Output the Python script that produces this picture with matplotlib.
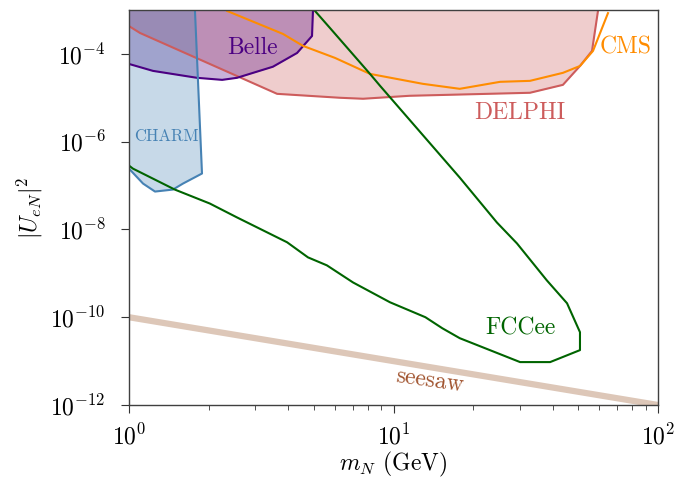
import numpy as np
import matplotlib
matplotlib.use("Agg")
import matplotlib.pyplot as plt

plt.rcParams['mathtext.fontset'] = 'cm'
plt.rcParams['font.family'] = 'serif'
plt.rcParams['font.serif'] = ['cmr10', 'DejaVu Serif']
plt.rcParams['axes.formatter.use_mathtext'] = True
plt.rcParams['axes.unicode_minus'] = False

YTOP = 1e-3

# DELPHI lower boundary (region above is excluded)
delphi_m = [1.0, 1.10, 3.63, 6.28, 7.67, 11.5, 32.8, 43.7, 50.7, 56.3, 59.3]
delphi_u = [4.3e-4, 3.0e-4, 1.23e-5, 1.0e-5, 9.5e-6, 1.11e-5, 1.30e-5, 1.97e-5, 5.3e-5, 1.17e-4, 9.5e-4]

# Belle lower boundary
belle_m = [1.0, 1.232, 1.807, 2.25, 2.56, 3.50, 4.32, 4.92, 4.96]
belle_u = [5.9e-5, 4.1e-5, 2.85e-5, 2.56e-5, 2.85e-5, 5.1e-5, 1.05e-4, 2.56e-4, 9.5e-4]

# CHARM boundary
charm_m = [1.0, 1.13, 1.254, 1.466, 1.60, 1.888, 1.776]
charm_u = [2.43e-7, 1.11e-7, 7.3e-8, 8.1e-8, 1.11e-7, 1.88e-7, 9.5e-4]

# CMS
cms_m = [2.35, 3.82, 4.55, 6.01, 8.15, 12.9, 17.8, 25.3, 32.8, 43.7, 50.7, 56.8, 64.7]
cms_u = [9.5e-4, 2.85e-4, 1.52e-4, 8.1e-5, 3.5e-5, 2.08e-5, 1.60e-5, 2.31e-5, 2.43e-5, 3.7e-5, 5.3e-5, 1.17e-4, 8.5e-4]

# FCCee closed contour
fcc_m = [5.05, 5.75, 8.15, 8.89, 17.8, 24.6, 29.3, 38.0, 45.3, 50.7, 50.7, 39.1, 30.1,
         17.8, 15.3, 13.2, 9.70, 7.03, 5.60, 4.75, 3.96, 2.56, 2.02, 1.49, 1.035, 1.0]
fcc_u = [9.5e-4, 3.9e-4, 3.5e-5, 1.88e-5, 1.52e-7, 1.44e-8, 4.8e-9, 6.9e-10, 2.08e-10,
         4.56e-11, 1.78e-11, 9.5e-12, 9.5e-12, 3.33e-11, 5.6e-11, 1.0e-10, 2.19e-10,
         6.2e-10, 1.52e-9, 2.31e-9, 5.1e-9, 1.88e-8, 3.9e-8, 8.1e-8, 2.43e-7, 2.85e-7]

# seesaw line
seesaw_m = [1.0, 100.0]
seesaw_u = [1e-10, 1e-12]

fig = plt.figure(figsize=(6.75, 4.79), dpi=100)
ax = fig.add_axes([129/675, 1-405/479, (658-129)/675, (405-10)/479])
ax.set_xscale('log')
ax.set_yscale('log')

c_del = 'indianred'
c_belle = 'indigo'
c_charm = 'steelblue'
c_cms = 'darkorange'
c_fcc = 'darkgreen'

ax.fill_between(delphi_m, delphi_u, YTOP * 2, color=c_del, alpha=0.3, lw=0)
ax.plot(delphi_m, delphi_u, color=c_del, lw=1.5)

ax.fill_between(belle_m, belle_u, YTOP * 2, color=c_belle, alpha=0.3, lw=0)
ax.plot(belle_m, belle_u, color=c_belle, lw=1.5)

cm_poly = list(charm_m) + [0.5, 0.5]
cu_poly = list(charm_u) + [YTOP * 2, charm_u[0]]
ax.fill(cm_poly, cu_poly, color=c_charm, alpha=0.3, lw=0)
ax.plot(charm_m, charm_u, color=c_charm, lw=1.5)

ax.plot(cms_m, cms_u, color=c_cms, lw=1.5)
ax.plot(fcc_m, fcc_u, color=c_fcc, lw=1.5)

ax.plot(seesaw_m, seesaw_u, color='#ddc7b8', lw=4.5, solid_capstyle='butt')

fs = 17
ax.text(2.94, 1.35e-4, 'Belle', color=c_belle, fontsize=fs, ha='center', va='center')
ax.text(30.1, 4.56e-6, 'DELPHI', color=c_del, fontsize=fs, ha='center', va='center')
ax.text(75.7, 1.4e-4, 'CMS', color=c_cms, fontsize=fs, ha='center', va='center')
ax.text(1.38, 1.3e-6, 'CHARM', color=c_charm, fontsize=12, ha='center', va='center')
ax.text(30.3, 5.6e-11, 'FCCee', color=c_fcc, fontsize=fs, ha='center', va='center')
ax.text(13.7, 3.5e-12, 'seesaw', color='sienna', fontsize=fs, ha='center', va='center', rotation=-8)

ax.set_xlim(1, 100)
ax.set_ylim(1e-12, YTOP)
ax.set_yticks([1e-12, 1e-10, 1e-8, 1e-6, 1e-4])
ax.yaxis.set_minor_locator(matplotlib.ticker.NullLocator())
ax.tick_params(labelsize=fs, direction='out', length=5.8, pad=11, color='0.2')
ax.tick_params(axis='x', pad=8)
ax.tick_params(which='minor', direction='out', length=3.5, color='0.2')
for s in ax.spines.values():
    s.set_color('0.25')
    s.set_linewidth(1.0)

ax.set_xlabel(r'$m_N$ (GeV)', fontsize=fs, labelpad=0)
ax.set_ylabel(r'$|U_{eN}|^2$', fontsize=fs, labelpad=4)

fig.savefig('out.png', dpi=100)
